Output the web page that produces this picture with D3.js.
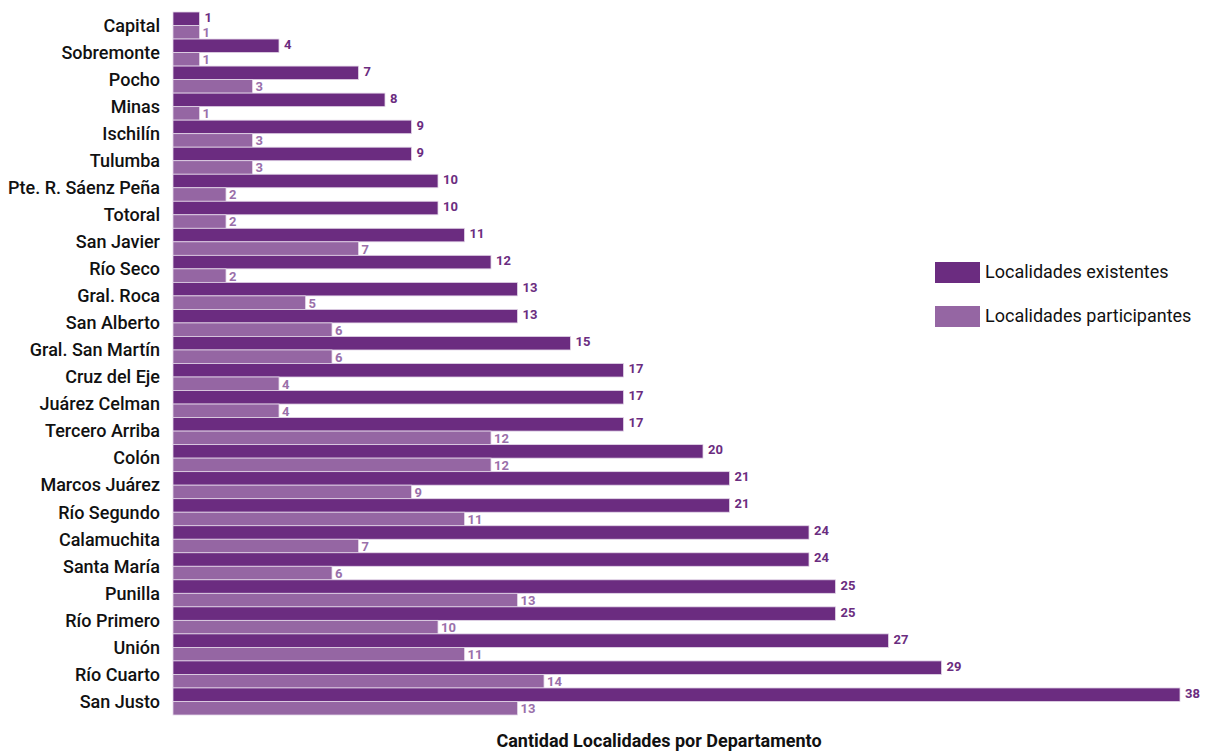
<!DOCTYPE html>
<html>
<head>
<meta charset="utf-8">
<script src="https://cdn.jsdelivr.net/npm/d3@7"></script>
<style>
  body { margin: 0; background: #fff; }
  text { font-family: Roboto, "Noto Sans", sans-serif; }
</style>
</head>
<body>
<div id="chart-area"></div>
<script>
// Data
var departamentos = ["Capital", "Sobremonte", "Pocho", "Minas", "Ischilín", "Tulumba",
	"Pte. R. Sáenz Peña", "Totoral", "San Javier", "Río Seco", "Gral. Roca", "San Alberto",
	"Gral. San Martín", "Cruz del Eje", "Juárez Celman", "Tercero Arriba", "Colón",
	"Marcos Juárez", "Río Segundo", "Calamuchita", "Santa María", "Punilla", "Río Primero",
	"Unión", "Río Cuarto", "San Justo"];
var existentes = [1, 4, 7, 8, 9, 9, 10, 10, 11, 12, 13, 13, 15, 17, 17, 17, 20, 21, 21, 24, 24, 25, 25, 27, 29, 38];
var participantes = [1, 1, 3, 1, 3, 3, 2, 2, 7, 2, 5, 6, 6, 4, 4, 12, 12, 9, 11, 7, 6, 13, 10, 11, 14, 13];
var series = ["Localidades existentes", "Localidades participantes"];
var colores = ["#6b2c80", "#9566a3"];
var colorTexto = ["#6b2c80", "#9a70aa"];
var titulo = "Cantidad Localidades por Departamento";

var width = 1206, height = 751;
var margin = {top: 12, left: 173};

var svg = d3.select("#chart-area")
	.append("svg")
	.attr("width", width)
	.attr("height", height);

var rows = departamentos.map(function(d, i) {
	return {dep: d, values: [existentes[i], participantes[i]]};
});

/** Scales */
var x = d3.scaleLinear()
	.domain([0, 38])
	.range([margin.left, 1180]);

var y = d3.scaleBand()
	.domain(departamentos)
	.range([margin.top, 715])
	.padding(0);

var ySub = d3.scaleBand()
	.domain([0, 1])
	.range([0, y.bandwidth()]);

/** Bars */
var grupos = svg.selectAll(".row")
	.data(rows)
	.enter()
	.append("g")
	.attr("class", "row")
	.attr("transform", function(d) { return "translate(0," + y(d.dep) + ")"; });

grupos.selectAll("rect")
	.data(function(d) { return d.values; })
	.enter()
	.append("rect")
	.attr("x", x(0))
	.attr("y", function(d, i) { return ySub(i); })
	.attr("width", function(d) { return x(d) - x(0); })
	.attr("height", ySub.bandwidth())
	.attr("fill", function(d, i) { return colores[i]; })
	.attr("stroke", "#e3d6e8")
	.attr("stroke-width", 0.8);

// value labels, nudged apart so the two of a row don't touch
grupos.selectAll(".valor")
	.data(function(d) { return d.values; })
	.enter()
	.append("text")
	.attr("class", "valor")
	.attr("x", function(d, i) { return x(d) + (i === 0 ? 5 : 3); })
	.attr("y", function(d, i) { return ySub(i) + ySub.bandwidth() / 2 + (i === 0 ? -0.5 : 1.5); })
	.attr("dominant-baseline", "middle")
	.attr("font-size", 13)
	.attr("font-weight", 700)
	.attr("fill", function(d, i) { return colorTexto[i]; })
	.text(function(d) { return d; });

/** Category labels */
var yAxis = d3.axisLeft(y).tickSize(0).tickPadding(13);
svg.append("g")
	.attr("class", "axis yAxis")
	.attr("transform", "translate(" + x(0) + ",0)")
	.call(yAxis)
	.call(function(g) { g.select(".domain").remove(); })
	.selectAll("text")
	.attr("font-size", 18)
	.attr("font-weight", 500)
	.attr("fill", "#111")
	.attr("dy", "0.35em");

/** Legend */
var legend = svg.selectAll(".legend")
	.data(series)
	.enter()
	.append("g")
	.attr("class", "legend")
	.attr("transform", function(d, i) { return "translate(935," + (262 + i * 44) + ")"; });

legend.append("rect")
	.attr("width", 45)
	.attr("height", 21)
	.attr("fill", function(d, i) { return colores[i]; });

legend.append("text")
	.attr("x", 50)
	.attr("y", 11)
	.attr("dominant-baseline", "middle")
	.attr("font-size", 18)
	.attr("fill", "#111")
	.text(function(d) { return d; });

/** Title */
svg.append("text")
	.attr("x", 659)
	.attr("y", 747)
	.attr("text-anchor", "middle")
	.attr("font-size", 18)
	.attr("font-weight", 700)
	.attr("fill", "#111")
	.text(titulo);
</script>
</body>
</html>
